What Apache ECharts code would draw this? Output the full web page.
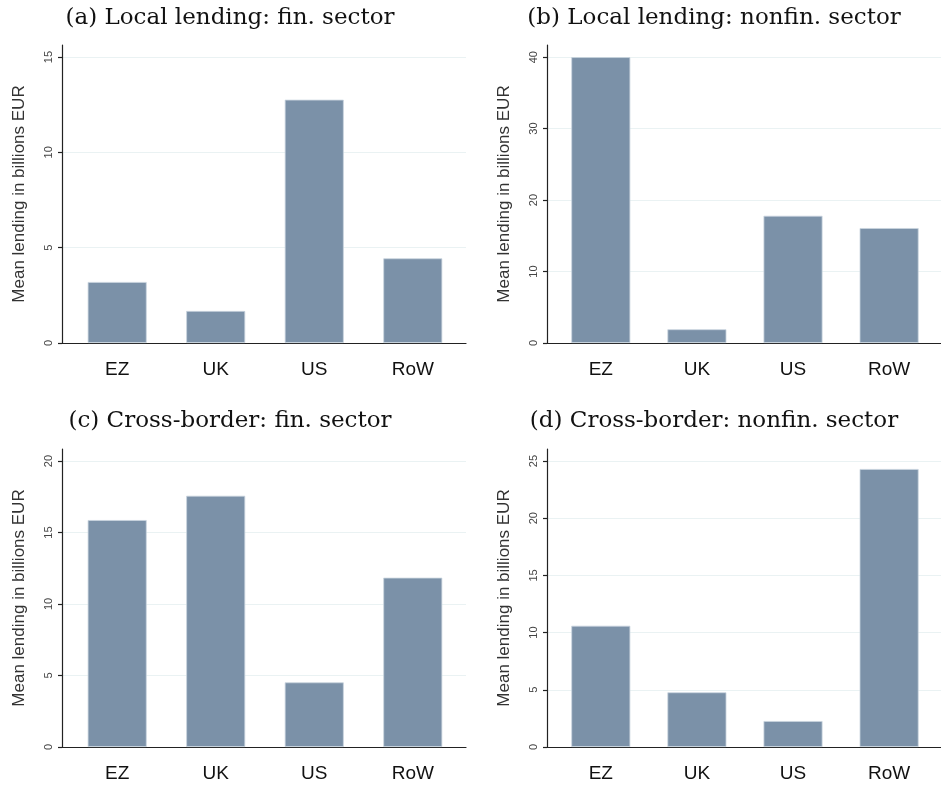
<!DOCTYPE html>
<html lang="en">
	<head>
		<meta charset="UTF-8">
		<title>Mean lending by region</title>
		<style type="text/css">
			html,
			body,
			#main {
				padding: 0;
				margin: 0;
				overflow: hidden;
				background-color: #fff;
				width: 941px;
				height: 787px;
			}
		</style>
	</head>
	<body>
		<div id="main"></div>
		<script type="text/javascript" src="https://cdn.jsdelivr.net/npm/echarts@6/dist/echarts.min.js"></script>
		<script type="text/javascript">
			// categories shared by all four panels
			const regions = ['EZ', 'UK', 'US', 'RoW'];
			// panel titles
			const titles = [
				'(a) Local lending: fin. sector',
				'(b) Local lending: nonfin. sector',
				'(c) Cross-border: fin. sector',
				'(d) Cross-border: nonfin. sector'
			];
			// mean lending in billions EUR
			const localFin = [3.2, 1.68, 12.76, 4.44];
			const localNonfin = [40.0, 1.92, 17.8, 16.08];
			const crossFin = [15.87, 17.57, 4.52, 11.84];
			const crossNonfin = [10.6, 4.78, 2.27, 24.3];
			// y axis tick marks and upper ends
			const ticksA = [0, 5, 10, 15];
			const ticksB = [0, 10, 20, 30, 40];
			const ticksC = [0, 5, 10, 15, 20];
			const ticksD = [0, 5, 10, 15, 20, 25];
			const axisMax = [15.63, 41.7, 20.84, 26.05];

			const panelData = [localFin, localNonfin, crossFin, crossNonfin];
			const panelTicks = [ticksA, ticksB, ticksC, ticksD];
			const regionIdx = regions.map(function (r, k) { return k; });

			// panel layout (pixels)
			const grids = [
				{ left: 62, top: 45, width: 404, height: 298 },
				{ left: 547, top: 45, width: 404, height: 298 },
				{ left: 62, top: 449, width: 404, height: 298 },
				{ left: 547, top: 449, width: 404, height: 298 }
			];
			const titlePos = [
				{ x: 230, y: 18 },
				{ x: 714, y: 18 },
				{ x: 230, y: 421 },
				{ x: 714, y: 421 }
			];

			const barColor = '#7b91a8';
			const sans = 'Liberation Sans, Arial, sans-serif';

			const option = {
				animation: false,
				backgroundColor: '#fff',
				title: titles.map(function (t, i) {
					return {
						text: t,
						left: titlePos[i].x,
						top: titlePos[i].y,
						padding: 0,
						textAlign: 'center',
						textVerticalAlign: 'middle',
						textStyle: {
							fontFamily: 'DejaVu Serif, serif',
							fontSize: 23,
							fontWeight: 'normal',
							color: '#111'
						}
					};
				}),
				grid: grids,
				// regions sit at 0..3 on a value axis, with an outer margin on both sides
				xAxis: grids.map(function (g, i) {
					return {
						type: 'value',
						gridIndex: i,
						min: -0.56,
						max: 3.54,
						axisLine: { show: true, onZero: false, lineStyle: { color: '#222', width: 1.2 } },
						axisTick: { show: false },
						splitLine: { show: false },
						axisLabel: {
							customValues: regionIdx,
							formatter: function (v) { return regions[Math.round(v)]; },
							fontFamily: sans,
							fontSize: 19,
							color: '#111',
							margin: 17
						}
					};
				}),
				yAxis: grids.map(function (g, i) {
					const ticks = panelTicks[i];
					return {
						type: 'value',
						gridIndex: i,
						min: 0,
						max: axisMax[i],
						interval: ticks[1] - ticks[0],
						name: 'Mean lending in billions EUR',
						nameLocation: 'middle',
						nameGap: 34,
						nameTextStyle: {
							fontFamily: sans,
							fontSize: 17,
							color: '#333'
						},
						axisLine: { show: true, onZero: false, lineStyle: { color: '#222', width: 1.2 } },
						axisTick: {
							show: true,
							inside: false,
							length: 4,
							customValues: ticks,
							lineStyle: { color: '#222', width: 1.2 }
						},
						axisLabel: {
							customValues: ticks,
							rotate: 90,
							fontFamily: sans,
							fontSize: 11,
							color: '#444',
							margin: 8
						},
						splitLine: {
							show: true,
							customValues: ticks.slice(1),
							lineStyle: { color: '#eaf2f3', width: 1 }
						}
					};
				}),
				series: panelData.map(function (d, i) {
					return {
						type: 'bar',
						xAxisIndex: i,
						yAxisIndex: i,
						data: regionIdx.map(function (k) { return [k, d[k]]; }),
						barWidth: 59,
						itemStyle: {
							color: barColor,
							borderColor: '#c9d4de',
							borderWidth: 0.8
						}
					};
				})
			};

			const chart = echarts.init(document.getElementById('main'), null, { renderer: 'canvas' });
			chart.setOption(option);
		</script>
	</body>
</html>
